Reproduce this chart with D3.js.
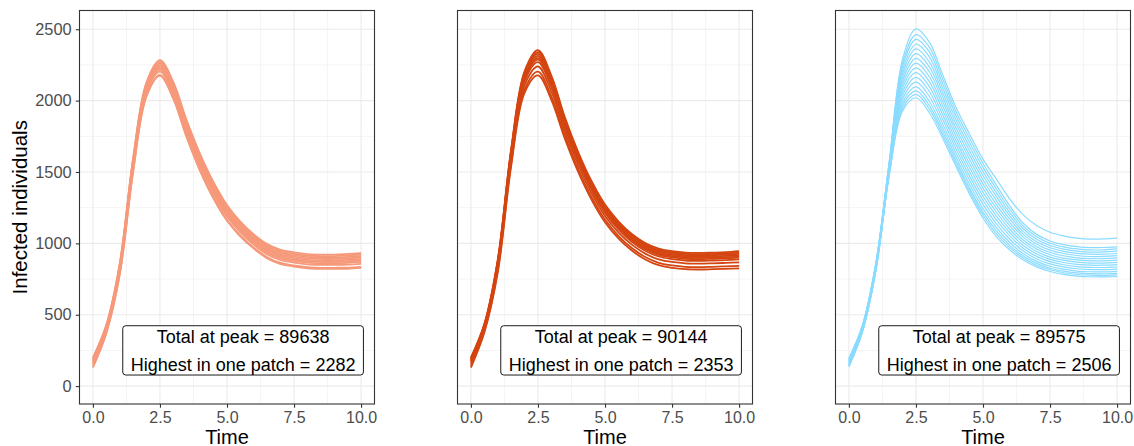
<!DOCTYPE html>
<html>
<head>
<meta charset="utf-8">
<script src="https://cdn.jsdelivr.net/npm/d3@7"></script>
<style>
  body { margin: 0; background: #fff; }
  svg text { font-family: "Liberation Sans", Arial, sans-serif; }
</style>
</head>
<body>
<script>
//Width and height
var w = 1134;
var h = 446;

//Time points (shared by every patch curve)
var times = [0, 0.5, 1, 1.5, 2, 2.5, 3, 3.5, 4, 4.5, 5, 5.5, 6, 6.5, 7, 7.5, 8, 8.5, 9, 9.5, 10];

//Infected individuals per patch, panel 1
var salmonPatches = [
  [200, 430, 860, 1600, 2130, 2283, 2130, 1860, 1625, 1428, 1268, 1152, 1063, 995, 955, 937, 925, 921, 921, 926, 932],
  [193, 424, 852, 1590, 2120, 2272, 2118, 1848, 1613, 1416, 1257, 1142, 1053, 985, 945, 927, 915, 911, 911, 916, 922],
  [186, 418, 844, 1580, 2110, 2261, 2106, 1836, 1601, 1405, 1246, 1131, 1043, 975, 935, 917, 905, 901, 901, 905, 911],
  [179, 412, 836, 1570, 2100, 2250, 2094, 1824, 1589, 1393, 1235, 1121, 1033, 965, 925, 907, 895, 891, 891, 895, 901],
  [172, 406, 828, 1560, 2090, 2239, 2082, 1812, 1577, 1382, 1224, 1110, 1023, 955, 915, 897, 885, 881, 881, 884, 890],
  [165, 400, 820, 1550, 2080, 2228, 2070, 1800, 1565, 1370, 1213, 1100, 1013, 945, 905, 887, 875, 871, 871, 874, 880],
  [158, 394, 812, 1540, 2070, 2217, 2058, 1788, 1553, 1358, 1202, 1090, 1003, 935, 895, 877, 865, 861, 861, 864, 870],
  [149, 386, 802, 1528, 2058, 2203, 2043, 1773, 1538, 1344, 1188, 1077, 991, 923, 883, 865, 853, 849, 849, 851, 857],
  [135, 374, 786, 1508, 2038, 2181, 2019, 1749, 1514, 1321, 1166, 1056, 971, 903, 863, 845, 833, 829, 829, 830, 836],
  [130, 370, 780, 1500, 2030, 2173, 2010, 1740, 1505, 1312, 1158, 1048, 963, 895, 855, 837, 825, 821, 821, 822, 828]
];

//Infected individuals per patch, panel 2
var orangePatches = [
  [200, 435, 885, 1660, 2205, 2353, 2175, 1885, 1640, 1435, 1272, 1155, 1066, 1003, 963, 945, 935, 933, 935, 938, 945],
  [195, 431, 878, 1651, 2194, 2340, 2162, 1874, 1630, 1425, 1263, 1146, 1057, 994, 954, 936, 926, 924, 926, 929, 936],
  [190, 426, 872, 1642, 2183, 2327, 2150, 1863, 1619, 1416, 1253, 1137, 1049, 986, 946, 928, 918, 916, 918, 921, 927],
  [184, 422, 865, 1633, 2171, 2313, 2137, 1851, 1609, 1406, 1244, 1128, 1040, 977, 937, 919, 909, 907, 909, 912, 918],
  [179, 417, 858, 1624, 2160, 2300, 2124, 1840, 1598, 1396, 1235, 1119, 1031, 968, 928, 910, 900, 898, 900, 903, 909],
  [174, 413, 851, 1615, 2149, 2287, 2111, 1829, 1588, 1386, 1226, 1110, 1023, 960, 920, 902, 892, 890, 892, 895, 900],
  [167, 407, 842, 1603, 2134, 2269, 2094, 1814, 1574, 1373, 1213, 1098, 1011, 948, 908, 890, 880, 878, 880, 883, 888],
  [154, 396, 826, 1582, 2107, 2239, 2064, 1787, 1549, 1350, 1191, 1077, 991, 928, 888, 870, 860, 858, 860, 863, 867],
  [140, 384, 808, 1558, 2077, 2203, 2030, 1757, 1521, 1324, 1167, 1053, 967, 904, 864, 846, 836, 834, 836, 839, 843],
  [130, 375, 795, 1540, 2055, 2177, 2005, 1735, 1500, 1305, 1148, 1035, 950, 887, 847, 829, 819, 817, 819, 822, 825]
];

//Infected individuals per patch, panel 3
var bluePatches = [
  [195, 425, 860, 1570, 2290, 2502, 2410, 2180, 1950, 1765, 1590, 1450, 1310, 1200, 1125, 1078, 1052, 1037, 1030, 1031, 1037],
  [191, 422, 856, 1563, 2264, 2462, 2375, 2149, 1921, 1736, 1561, 1408, 1262, 1141, 1063, 1017, 991, 977, 970, 971, 976],
  [187, 418, 852, 1556, 2239, 2429, 2341, 2118, 1892, 1706, 1532, 1381, 1239, 1121, 1046, 1001, 976, 961, 954, 955, 961],
  [182, 415, 847, 1549, 2213, 2395, 2306, 2087, 1863, 1677, 1503, 1354, 1215, 1102, 1029, 985, 960, 946, 939, 940, 945],
  [178, 411, 843, 1542, 2188, 2362, 2271, 2055, 1834, 1647, 1475, 1327, 1192, 1082, 1011, 969, 944, 930, 924, 924, 929],
  [174, 408, 839, 1535, 2162, 2329, 2237, 2024, 1805, 1618, 1446, 1300, 1169, 1063, 994, 953, 929, 915, 908, 909, 914],
  [170, 404, 835, 1528, 2137, 2296, 2202, 1993, 1776, 1589, 1417, 1272, 1146, 1044, 977, 936, 913, 899, 893, 893, 898],
  [166, 401, 831, 1521, 2111, 2262, 2167, 1962, 1747, 1559, 1388, 1245, 1122, 1024, 960, 920, 897, 884, 878, 878, 882],
  [161, 397, 826, 1514, 2086, 2229, 2133, 1931, 1718, 1530, 1359, 1218, 1099, 1005, 943, 904, 882, 868, 862, 862, 867],
  [157, 394, 822, 1507, 2060, 2196, 2098, 1900, 1689, 1500, 1330, 1191, 1076, 985, 926, 888, 866, 853, 847, 847, 851],
  [153, 390, 818, 1500, 2035, 2163, 2064, 1869, 1660, 1471, 1302, 1164, 1053, 966, 909, 872, 850, 837, 832, 831, 835],
  [149, 387, 814, 1493, 2009, 2129, 2029, 1837, 1630, 1442, 1273, 1137, 1029, 947, 891, 856, 835, 822, 816, 816, 820],
  [145, 383, 810, 1486, 1983, 2096, 1994, 1806, 1601, 1412, 1244, 1110, 1006, 927, 874, 840, 819, 806, 801, 800, 804],
  [141, 380, 806, 1480, 1962, 2068, 1965, 1780, 1577, 1387, 1219, 1087, 986, 911, 860, 826, 805, 793, 788, 787, 790],
  [138, 378, 803, 1475, 1943, 2044, 1940, 1757, 1556, 1366, 1199, 1067, 970, 897, 847, 815, 794, 782, 777, 776, 779],
  [135, 375, 800, 1470, 1925, 2020, 1915, 1735, 1535, 1345, 1178, 1048, 953, 883, 835, 803, 783, 771, 766, 765, 768]
];

//Label values
var peakTotals = [89638, 90144, 89575];
var peakHighest = [2282, 2353, 2506];

//Tick values
var xTicks = [0, 2.5, 5, 7.5, 10];
var xMinor = [1.25, 3.75, 6.25, 8.75];
var yTicks = [0, 500, 1000, 1500, 2000, 2500];
var yMinor = [250, 750, 1250, 1750, 2250];

var panels = [salmonPatches, orangePatches, bluePatches];
var colours = ["#F6997A", "#D44511", "#8ADBFF"];
var strokeWidths = [1.8, 1.8, 1.2];

//Panel geometry
var panelLeft = [79.5, 457.5, 835.5];
var panelTop = 10.5;
var panelW = 295;
var panelH = 393.5;

var x = d3.scaleLinear().domain([-0.5, 10.5]).range([0, panelW]);
var y = d3.scaleLinear().domain([-125.3, 2631.3]).range([panelH, 0]);

var line = d3.line()
    .x((d, i) => x(times[i]))
    .y((d) => y(d))
    .curve(d3.curveCatmullRom.alpha(0.5));

//Create SVG element
var svg = d3.select("body")
            .append("svg")
            .attr("width", w)
            .attr("height", h);

panels.forEach((patches, p) => {

    var g = svg.append("g")
        .attr("transform", "translate(" + panelLeft[p] + "," + panelTop + ")");

    //Grid lines
    g.selectAll("line.xminor").data(xMinor).enter().append("line")
        .attr("x1", (d) => x(d)).attr("x2", (d) => x(d))
        .attr("y1", 0).attr("y2", panelH)
        .attr("stroke", "#ebebeb").attr("stroke-width", 0.55);
    g.selectAll("line.yminor").data(yMinor).enter().append("line")
        .attr("x1", 0).attr("x2", panelW)
        .attr("y1", (d) => y(d)).attr("y2", (d) => y(d))
        .attr("stroke", "#ebebeb").attr("stroke-width", 0.55);
    g.selectAll("line.xmajor").data(xTicks).enter().append("line")
        .attr("x1", (d) => x(d)).attr("x2", (d) => x(d))
        .attr("y1", 0).attr("y2", panelH)
        .attr("stroke", "#ebebeb").attr("stroke-width", 1.1);
    g.selectAll("line.ymajor").data(yTicks).enter().append("line")
        .attr("x1", 0).attr("x2", panelW)
        .attr("y1", (d) => y(d)).attr("y2", (d) => y(d))
        .attr("stroke", "#ebebeb").attr("stroke-width", 1.1);

    //One path per patch
    g.selectAll("path.patch")
        .data(patches)
        .enter()
        .append("path")
        .attr("class", "patch")
        .attr("d", line)
        .attr("fill", "none")
        .attr("stroke", colours[p])
        .attr("stroke-width", strokeWidths[p]);

    //Label box
    var lab = g.append("g")
        .attr("transform", "translate(" + x(5.6) + "," + y(250) + ")");
    var t1 = lab.append("text")
        .attr("y", -7.4)
        .attr("text-anchor", "middle")
        .attr("font-size", "18px")
        .attr("fill", "#000")
        .text("Total at peak = " + peakTotals[p]);
    var t2 = lab.append("text")
        .attr("y", 20.3)
        .attr("text-anchor", "middle")
        .attr("font-size", "18px")
        .attr("fill", "#000")
        .text("Highest in one patch = " + peakHighest[p]);
    var bw = Math.max(t1.node().getComputedTextLength(), t2.node().getComputedTextLength()) + 16;
    lab.insert("rect", "text")
        .attr("x", -bw / 2)
        .attr("y", -24.7)
        .attr("width", bw)
        .attr("height", 49.3)
        .attr("rx", 3)
        .attr("fill", "#fff")
        .attr("stroke", "#000")
        .attr("stroke-width", 0.9);

    //Panel border
    g.append("rect")
        .attr("width", panelW)
        .attr("height", panelH)
        .attr("fill", "none")
        .attr("stroke", "#333333")
        .attr("stroke-width", 1.1);

    //X axis
    var xAxis = g.append("g")
        .attr("transform", "translate(0," + panelH + ")")
        .call(d3.axisBottom(x).tickValues(xTicks).tickFormat(d3.format(".1f")).tickSize(3.7).tickPadding(4));
    xAxis.select(".domain").remove();
    xAxis.selectAll(".tick line").attr("stroke", "#333333").attr("stroke-width", 1.1);
    xAxis.selectAll(".tick text")
        .attr("fill", "#4d4d4d")
        .attr("font-size", "16px")
        .attr("font-family", "Liberation Sans, Arial, sans-serif");

    g.append("text")
        .attr("x", panelW / 2)
        .attr("y", 443.5 - panelTop)
        .attr("text-anchor", "middle")
        .attr("font-size", "20px")
        .attr("fill", "#000")
        .text("Time");

    //Y axis only on the first panel
    if (p === 0) {
        var yAxis = g.append("g")
            .call(d3.axisLeft(y).tickValues(yTicks).tickFormat(d3.format("d")).tickSize(3.7).tickPadding(4.1));
        yAxis.select(".domain").remove();
        yAxis.selectAll(".tick line").attr("stroke", "#333333").attr("stroke-width", 1.1);
        yAxis.selectAll(".tick text")
            .attr("fill", "#4d4d4d")
            .attr("font-size", "16.4px")
            .attr("font-family", "Liberation Sans, Arial, sans-serif");

        g.append("text")
            .attr("transform", "translate(" + (27 - panelLeft[0]) + "," + (panelH / 2) + ") rotate(-90)")
            .attr("text-anchor", "middle")
            .attr("font-size", "20.5px")
            .attr("fill", "#000")
            .text("Infected individuals");
    }
});
</script>
</body>
</html>
